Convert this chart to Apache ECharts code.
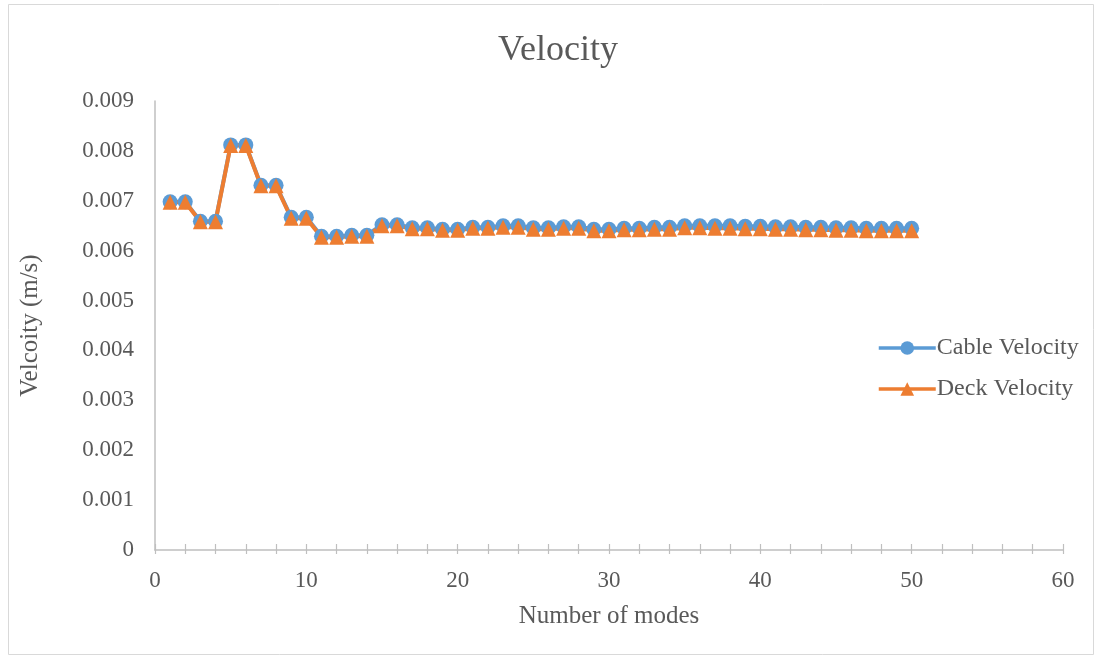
<!DOCTYPE html>
<html>
<head>
<meta charset="utf-8">
<script src="https://cdn.jsdelivr.net/npm/echarts@6/dist/echarts.min.js"></script>
<style>
  html, body { margin: 0; padding: 0; background: #fff; }
  #chart { width: 1101px; height: 659px; }
</style>
</head>
<body>
<div id="chart"></div>
<script>
// Mode numbers 1..50
const modes = [1,2,3,4,5,6,7,8,9,10,11,12,13,14,15,16,17,18,19,20,21,22,23,24,25,
  26,27,28,29,30,31,32,33,34,35,36,37,38,39,40,41,42,43,44,45,46,47,48,49,50];

// Velocity per mode (m/s)
const cableVelocity = [
  0.00698, 0.00698, 0.00659, 0.00659, 0.00812, 0.00812, 0.00731, 0.00731, 0.00667, 0.00667,
  0.00629, 0.00629, 0.00631, 0.00631, 0.00652, 0.00652, 0.00646, 0.00646, 0.00643, 0.00643,
  0.00647, 0.00647, 0.00650, 0.00650, 0.00646, 0.00646, 0.00648, 0.00648, 0.00643, 0.00643,
  0.00645, 0.00645, 0.00647, 0.00647, 0.00650, 0.00650, 0.00650, 0.00650, 0.00649, 0.00649,
  0.00648, 0.00648, 0.00647, 0.00647, 0.00646, 0.00646, 0.00645, 0.00645, 0.00645, 0.00645
];
const deckVelocity = [
  0.00697, 0.00697, 0.00658, 0.00658, 0.00811, 0.00811, 0.00730, 0.00730, 0.00665, 0.00665,
  0.00627, 0.00627, 0.00629, 0.00629, 0.00650, 0.00650, 0.00644, 0.00644, 0.00641, 0.00641,
  0.00645, 0.00645, 0.00647, 0.00647, 0.00643, 0.00643, 0.00645, 0.00645, 0.00640, 0.00640,
  0.00642, 0.00642, 0.00643, 0.00643, 0.00646, 0.00646, 0.00645, 0.00645, 0.00644, 0.00644,
  0.00643, 0.00643, 0.00642, 0.00642, 0.00641, 0.00641, 0.00640, 0.00640, 0.00640, 0.00640
];

const xTicks = { min: 0, max: 60, step: 2, labelStep: 10 };
const yTicks = { min: 0, max: 0.009, step: 0.001 };

const FONT = '"Liberation Serif", "Times New Roman", serif';
const TEXT = '#595959';
const AXIS = '#BFBFBF';

const chart = echarts.init(document.getElementById('chart'));
chart.setOption({
  backgroundColor: '#ffffff',
  animation: false,
  title: {
    text: 'Velocity',
    left: 493,
    top: 28,
    textStyle: { fontFamily: FONT, fontSize: 36, fontWeight: 'normal', color: TEXT }
  },
  graphic: [{
    type: 'rect',
    shape: { x: 8.5, y: 4.5, width: 1085, height: 650 },
    style: { fill: 'none', stroke: '#D9D9D9', lineWidth: 1 },
    silent: true
  }],
  legend: {
    orient: 'vertical',
    left: 872,
    top: 331,
    itemGap: 17,
    itemWidth: 57,
    itemHeight: 17,
    lineStyle: { width: 3.5 },
    textStyle: { fontFamily: FONT, fontSize: 24, color: TEXT, padding: [0, 0, 0, -4] },
    data: ['Cable Velocity', 'Deck Velocity']
  },
  grid: { left: 155, right: 38, top: 101, bottom: 109 },
  xAxis: [{
    type: 'value',
    min: xTicks.min, max: xTicks.max, interval: xTicks.step,
    name: 'Number of modes',
    nameLocation: 'middle',
    nameGap: 54,
    nameTextStyle: { fontFamily: FONT, fontSize: 25, color: TEXT },
    axisLine: { show: true, lineStyle: { color: AXIS, width: 1.5 } },
    axisTick: { show: true, inside: true, length: 6, lineStyle: { color: AXIS, width: 1.2 } },
    axisLabel: {
      margin: 19,
      fontFamily: FONT, fontSize: 23, color: TEXT,
      formatter: v => (v % xTicks.labelStep === 0 ? String(v) : '')
    },
    splitLine: { show: false }
  }, {
    // second copy of the bottom axis: tick marks below the line
    type: 'value',
    position: 'bottom',
    min: xTicks.min, max: xTicks.max, interval: xTicks.step,
    axisLine: { show: false },
    axisTick: { show: true, inside: false, length: 4, lineStyle: { color: AXIS, width: 1.2 } },
    axisLabel: { show: false },
    splitLine: { show: false }
  }],
  yAxis: {
    type: 'value',
    min: yTicks.min, max: yTicks.max, interval: yTicks.step,
    name: 'Velcoity (m/s)',
    nameLocation: 'middle',
    nameGap: 112,
    nameTextStyle: { fontFamily: FONT, fontSize: 25, color: TEXT },
    axisLine: { show: true, lineStyle: { color: AXIS, width: 1.5 } },
    axisTick: { show: false },
    axisLabel: {
      margin: 21,
      fontFamily: FONT, fontSize: 23, color: TEXT,
      formatter: v => (v === 0 ? '0' : v.toFixed(3))
    },
    splitLine: { show: false }
  },
  series: [{
    name: 'Cable Velocity',
    type: 'line',
    data: modes.map((m, i) => [m, cableVelocity[i]]),
    symbol: 'circle',
    symbolSize: 15,
    color: '#5B9BD5',
    lineStyle: { width: 4, color: '#5B9BD5' },
    itemStyle: { color: '#5B9BD5' }
  }, {
    name: 'Deck Velocity',
    type: 'line',
    data: modes.map((m, i) => [m, deckVelocity[i]]),
    symbol: 'triangle',
    symbolSize: 15,
    color: '#ED7D31',
    lineStyle: { width: 4, color: '#ED7D31' },
    itemStyle: { color: '#ED7D31' }
  }]
});
</script>
</body>
</html>
